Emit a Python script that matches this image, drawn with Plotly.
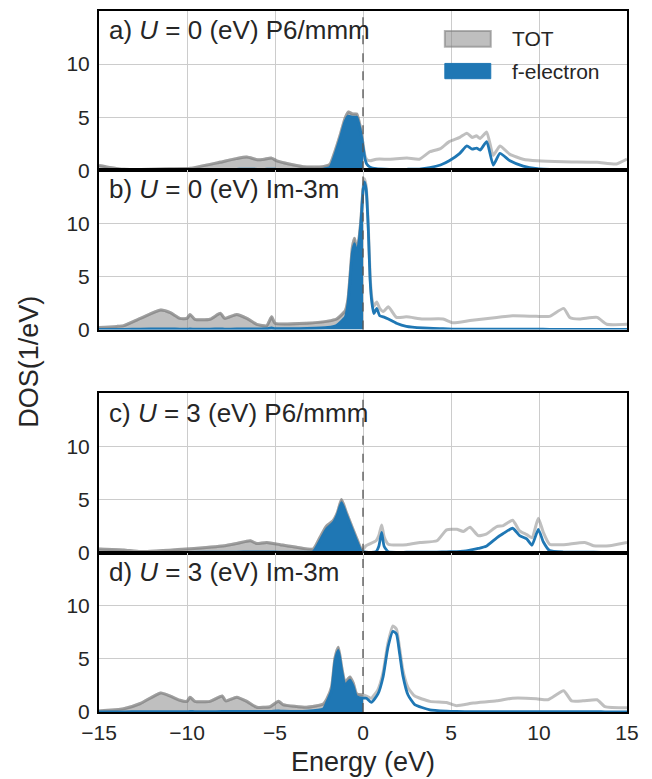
import plotly.graph_objects as go

# ---- datos (energia en eV, DOS en 1/eV) ----
# a) U = 0, P6/mmm
e_a = [-15, -14.5, -13.6, -12, -11, -9.8, -8.3, -7.2, -6.6, -6.0,
       -5.6, -5.2, -4.9, -4.2, -3.4, -2.3, -1.87, -1.59, -1.3, -1.02,
       -0.83, -0.6, -0.36, -0.17, 0.0, 0.11, 0.21, 0.4, 0.75, 1.5,
       2.5, 3.2, 3.8, 4.4, 4.9, 5.5, 5.9, 6.2, 6.45, 6.65,
       7.03, 7.4, 7.78, 8.35, 9.1, 9.9, 11.4, 13.3, 14.4, 15]
tot_a = [0.45, 0.3, 0.1, 0.1, 0.15, 0.2, 0.7, 1.1, 1.25, 1.0,
         1.05, 1.15, 0.9, 0.6, 0.35, 0.35, 0.6, 1.8, 3.3, 4.9,
         5.5, 5.3, 5.3, 4.2, 2.5, 1.4, 1.0, 0.9, 1.05, 1.05,
         1.15, 1.05, 1.75, 2.05, 2.7, 3.1, 3.5, 3.1, 3.25, 3.0,
         3.6, 1.4, 2.3, 1.5, 1.05, 0.9, 0.8, 0.75, 0.6, 1.05]
f_a = [0.02, 0.02, 0.02, 0.03, 0.03, 0.04, 0.06, 0.1, 0.12, 0.1,
       0.1, 0.12, 0.1, 0.08, 0.06, 0.1, 0.3, 1.5, 3.0, 4.6,
       5.1, 5.0, 5.0, 3.9, 2.3, 1.1, 0.6, 0.3, 0.15, 0.1,
       0.1, 0.12, 0.25, 0.5, 0.9, 1.6, 2.3, 2.0, 2.1, 1.9,
       2.7, 0.5, 1.6, 0.9, 0.4, 0.15, 0.05, 0.03, 0.02, 0.02]

# b) U = 0, Im-3m
e_b = [-15, -14, -13.6, -12.65, -11.5, -10.95, -10.4, -10.0, -9.83, -9.55,
       -8.7, -8.1, -7.86, -7.18, -6.6, -6.04, -5.47, -5.19, -5.0, -3.2,
       -2.0, -1.5, -1.0, -0.85, -0.74, -0.6, -0.48, -0.38, -0.25, -0.12,
       0.0, 0.08, 0.18, 0.3, 0.4, 0.5, 0.62, 0.78, 0.95, 1.16,
       1.44, 1.9, 2.46, 3.4, 4.55, 5.1, 6.08, 7.6, 8.5, 9.85,
       10.6, 11.4, 11.75, 12.3, 13.3, 13.85, 15]
tot_b = [0.2, 0.3, 0.37, 1.06, 1.84, 1.6, 1.06, 1.06, 1.43, 0.97,
         0.97, 1.53, 1.06, 1.43, 1.06, 0.5, 0.37, 1.2, 0.6, 0.6,
         0.8, 1.0, 1.8, 2.9, 5.0, 7.8, 8.6, 7.6, 8.3, 10.3,
         13.3, 14.2, 13.5, 9.8, 5.2, 3.0, 2.2, 2.6, 2.0, 1.7,
         2.15, 1.15, 1.2, 1.0, 1.0, 0.65, 0.85, 1.15, 1.3, 1.25,
         1.25, 2.0, 1.15, 1.0, 1.15, 0.5, 0.5]
f_b = [0.02, 0.03, 0.03, 0.05, 0.06, 0.06, 0.05, 0.05, 0.06, 0.05,
       0.05, 0.06, 0.05, 0.06, 0.06, 0.06, 0.08, 0.15, 0.1, 0.12,
       0.2, 0.4, 1.2, 2.5, 4.6, 7.3, 8.1, 7.2, 8.0, 10.0,
       13.0, 13.9, 13.2, 9.5, 4.8, 2.6, 1.5, 2.0, 1.3, 1.2,
       1.0, 0.6, 0.3, 0.15, 0.08, 0.05, 0.04, 0.04, 0.04, 0.04,
       0.03, 0.03, 0.03, 0.03, 0.03, 0.02, 0.02]

# c) U = 3, P6/mmm
e_c = [-15, -13.6, -12.65, -10.0, -7.86, -7.18, -6.4, -6.04, -5.47, -4.7,
       -3.77, -2.83, -2.45, -2.08, -1.7, -1.45, -1.22, -0.95, -0.76, -0.38,
       -0.1, 0.0, 0.17, 0.74, 0.9, 1.06, 1.2, 1.44, 2.48, 3.24,
       4.2, 4.75, 5.33, 5.7, 6.08, 6.55, 7.0, 7.6, 7.97, 8.5,
       8.9, 9.3, 9.6, 9.96, 10.25, 10.6, 11.4, 12.6, 13.1, 14.0, 15]
tot_c = [0.34, 0.25, 0.1, 0.35, 0.65, 0.86, 1.12, 0.86, 0.96, 0.75,
         0.5, 0.34, 1.43, 2.5, 3.0, 3.8, 5.0, 3.8, 3.0, 1.43,
         0.34, 0.3, 0.65, 1.12, 1.6, 2.6, 1.5, 0.8, 0.75, 0.96,
         1.12, 2.15, 2.2, 2.0, 2.4, 1.6, 1.75, 2.45, 2.55, 3.05,
         2.05, 1.7, 1.4, 3.24, 1.9, 0.8, 0.75, 0.96, 0.65, 0.65, 0.96]
f_c = [0.02, 0.02, 0.02, 0.03, 0.05, 0.06, 0.08, 0.07, 0.08, 0.06,
       0.05, 0.1, 1.1, 2.2, 2.8, 3.6, 4.7, 3.6, 2.8, 1.2,
       0.15, 0.1, 0.05, 0.1, 0.6, 1.9, 0.6, 0.08, 0.04, 0.04,
       0.05, 0.08, 0.1, 0.15, 0.25, 0.4, 0.6, 1.4, 1.8, 2.3,
       1.6, 1.3, 0.7, 2.2, 1.0, 0.2, 0.06, 0.05, 0.04, 0.03, 0.03]

# d) U = 3, Im-3m
e_d = [-15, -13.6, -12.65, -11.5, -10.95, -10.4, -10.0, -9.83, -9.55, -8.7,
       -8.0, -7.8, -7.18, -6.6, -6.04, -5.28, -4.8, -4.55, -3.2, -2.25,
       -2.06, -1.78, -1.59, -1.4, -1.21, -1.02, -0.74, -0.55, -0.36, 0.0,
       0.2, 0.47, 0.85, 1.14, 1.42, 1.7, 1.9, 2.08, 2.27, 2.56,
       2.94, 3.8, 4.75, 5.3, 6.27, 7.6, 8.5, 9.85, 10.5, 11.4,
       11.85, 12.5, 13.3, 13.75, 15]
tot_d = [0.1, 0.3, 0.8, 1.8, 1.5, 1.1, 1.0, 1.4, 1.0, 1.0,
         1.5, 1.05, 1.4, 1.0, 0.45, 0.5, 1.0, 0.7, 0.45, 0.75,
         1.2, 2.4, 5.1, 6.1, 4.2, 2.8, 3.3, 2.7, 1.7, 1.6,
         1.5, 1.3, 2.1, 3.7, 6.5, 8.1, 7.8, 6.0, 3.9, 2.3,
         1.5, 1.0, 0.9, 0.6, 0.85, 1.05, 1.3, 1.25, 1.15, 2.0,
         1.05, 1.05, 1.15, 0.5, 0.4]
f_d = [0.02, 0.02, 0.03, 0.04, 0.04, 0.04, 0.04, 0.05, 0.04, 0.04,
       0.05, 0.05, 0.06, 0.06, 0.05, 0.06, 0.1, 0.08, 0.08, 0.3,
       0.9, 2.06, 4.8, 5.8, 3.9, 2.5, 3.0, 2.4, 1.45, 1.3,
       1.3, 0.9, 1.7, 3.3, 6.1, 7.6, 7.35, 5.5, 3.4, 1.6,
       0.7, 0.2, 0.08, 0.05, 0.04, 0.04, 0.04, 0.04, 0.03, 0.04,
       0.03, 0.03, 0.03, 0.02, 0.02]

panels = [
    ('a', 0, 'P6/mmm', e_a, tot_a, f_a),
    ('b', 0, 'Im-3m', e_b, tot_b, f_b),
    ('c', 3, 'P6/mmm', e_c, tot_c, f_c),
    ('d', 3, 'Im-3m', e_d, tot_d, f_d),
]
domains = [[0.7727, 1.0], [0.5455, 0.7727], [0.2273, 0.4545], [0.0, 0.2273]]

GRAY = 'rgba(128,128,128,0.5)'
BLUE = '#1f77b4'
TXT = '#262626'
FONT = 'Liberation Sans, Arial, sans-serif'

fig = go.Figure()
layout = {}
shapes = []
annotations = []

for i, (tag, u, grp, e, tot, f) in enumerate(panels):
    n = '' if i == 0 else str(i + 1)
    xa, ya = 'x' + n, 'y' + n
    # solo la parte ocupada (E <= 0) va rellena
    idx = [k for k in range(len(e)) if e[k] <= 0]
    e_neg = [e[k] for k in idx]

    fig.add_trace(go.Scatter(x=e_neg, y=[tot[k] for k in idx], mode='lines',
                             fill='tozeroy', fillcolor=GRAY,
                             line=dict(color=GRAY, width=3, shape='spline', smoothing=0.5),
                             xaxis=xa, yaxis=ya, showlegend=False, hoverinfo='skip'))
    fig.add_trace(go.Scatter(x=e, y=tot, mode='lines', name='TOT',
                             line=dict(color=GRAY, width=3, shape='spline', smoothing=0.5),
                             xaxis=xa, yaxis=ya, showlegend=False))
    fig.add_trace(go.Scatter(x=e_neg, y=[f[k] for k in idx], mode='lines',
                             fill='tozeroy', fillcolor=BLUE, line=dict(width=0, shape='spline', smoothing=0.5),
                             xaxis=xa, yaxis=ya, showlegend=False, hoverinfo='skip'))
    fig.add_trace(go.Scatter(x=e, y=f, mode='lines', name='f-electron',
                             line=dict(color=BLUE, width=2.8, shape='spline', smoothing=0.5),
                             xaxis=xa, yaxis=ya, showlegend=False))

    layout['xaxis' + n] = dict(
        anchor=ya, domain=[0, 1], range=[-15, 15], tickvals=[-15, -10, -5, 0, 5, 10, 15],
        showticklabels=(i == 3), showgrid=True, gridcolor='#cccccc', gridwidth=1.4,
        zeroline=False, showline=True, mirror=True, linecolor='black', linewidth=2,
        ticks='', tickfont=dict(size=21, color=TXT, family=FONT), ticklabelstandoff=1,
        matches=None if i == 0 else 'x',
    )
    layout['yaxis' + n] = dict(
        anchor=xa, domain=domains[i], range=[0, 15], tickvals=[0, 5, 10],
        showgrid=True, gridcolor='#cccccc', gridwidth=1.4, zeroline=False,
        showline=True, mirror=True, linecolor='black', linewidth=2,
        ticks='', tickfont=dict(size=21, color=TXT, family=FONT), ticklabelstandoff=3,
    )

    # linea de Fermi
    shapes.append(dict(type='line', xref=xa, x0=0, x1=0, yref=ya + ' domain', y0=0, y1=1,
                       line=dict(color='#555555', width=1.3, dash='dash'), layer='above'))
    annotations.append(dict(text=f'{tag}) <i>U</i> = {u} (eV) {grp}', xref=xa + ' domain', yref=ya + ' domain',
                            x=0.015, y=0.88, xanchor='left', yanchor='middle', showarrow=False,
                            font=dict(size=26, color=TXT, family=FONT)))

# leyenda dibujada a mano en el panel a
shapes.append(dict(type='rect', xref='x domain', yref='y domain', x0=0.655, x1=0.742, y0=0.775, y1=0.875,
                   fillcolor=GRAY, line=dict(color='rgba(128,128,128,0.6)', width=2)))
shapes.append(dict(type='rect', xref='x domain', yref='y domain', x0=0.655, x1=0.742, y0=0.575, y1=0.671,
                   fillcolor=BLUE, line=dict(color=BLUE, width=1)))
annotations.append(dict(text='TOT', xref='x domain', yref='y domain', x=0.778, y=0.825,
                        xanchor='left', yanchor='middle', showarrow=False,
                        font=dict(size=21, color=TXT, family=FONT)))
annotations.append(dict(text='f-electron', xref='x domain', yref='y domain', x=0.778, y=0.622,
                        xanchor='left', yanchor='middle', showarrow=False,
                        font=dict(size=21, color=TXT, family=FONT)))

# titulos de los ejes
annotations.append(dict(text='DOS(1/eV)', xref='paper', yref='paper', x=-0.134, y=0.5,
                        xanchor='center', yanchor='middle', textangle=-90, showarrow=False,
                        font=dict(size=27, color=TXT, family=FONT)))
annotations.append(dict(text='Energy (eV)', xref='paper', yref='paper', x=0.5, y=-0.071,
                        xanchor='center', yanchor='middle', showarrow=False,
                        font=dict(size=27, color=TXT, family=FONT)))

# la pagina tiene 8px de margen en el body: se descuentan aqui
fig.update_layout(
    width=644, height=771,
    margin=dict(l=91, r=25, t=1, b=67),
    plot_bgcolor='white', paper_bgcolor='white',
    font=dict(family=FONT, color=TXT),
    showlegend=False,
    shapes=shapes, annotations=annotations,
    **layout,
)

fig.write_html('out.html')
